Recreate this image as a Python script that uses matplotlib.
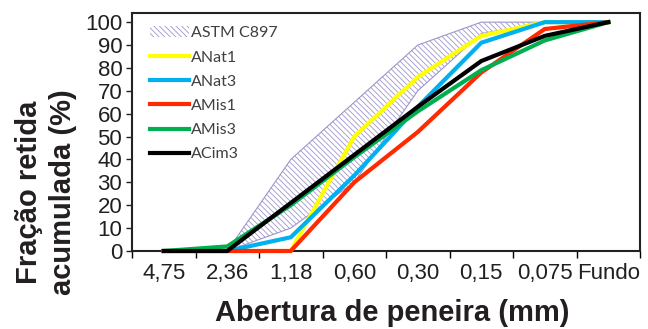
import numpy as np
import matplotlib.pyplot as plt
from matplotlib.patches import Patch
from matplotlib.lines import Line2D

plt.rcParams['font.family'] = ['Liberation Sans', 'DejaVu Sans']
plt.rcParams['hatch.linewidth'] = 0.6

# sieve openings (mm) as categories
sieves = ["4,75", "2,36", "1,18", "0,60", "0,30", "0,15", "0,075", "Fundo"]

# ASTM C897 band, defined from 2,36 to 0,075
band_sieves = ["2,36", "1,18", "0,60", "0,30", "0,15", "0,075"]
band_lower = [0, 10, 30, 70, 95, 100]
band_upper = [0, 40, 65, 90, 100, 100]

# cumulative retained fraction (%)
anat1 = [0, 0, 0, 50, 76, 94, 100, 100]
anat3 = [0, 0, 6, 33, 63, 91, 100, 100]
amis1 = [0, 0, 0, 30, 52, 78, 97, 100]
amis3 = [0, 2, 20, 41, 61, 79, 92, 100]
acim3 = [0, 0, 21, 42, 63, 83, 94, 100]

series = [
    ("ANat1", anat1, "#FFFF00"),
    ("ANat3", anat3, "#00B0F0"),
    ("AMis1", amis1, "#FF2A00"),
    ("AMis3", amis3, "#00B050"),
    ("ACim3", acim3, "#000000"),
]

band_color = "#9E95CC"
text_color = "#231F20"
hatch = "\\" * 6

fig = plt.figure(figsize=(6.48, 3.29), dpi=100)
ax = fig.add_axes([0.2037, 0.2371, 0.7840, 0.7234])

xpos = np.arange(len(sieves))
bx = [sieves.index(s) for s in band_sieves]

ax.fill_between(bx, band_lower, band_upper, facecolor="none",
                edgecolor=band_color, hatch=hatch, linewidth=0.8, zorder=1)

handles = [Patch(facecolor="none", edgecolor=band_color, hatch=hatch,
                 linewidth=0, label="ASTM C897")]
for name, vals, col in series:
    ax.plot(xpos, vals, color=col, linewidth=3.0, solid_joinstyle="miter",
            clip_on=False, zorder=3)
    handles.append(Line2D([], [], color=col, linewidth=3.0, label=name))

ax.set_xlim(-0.5, 7.5)
ax.set_ylim(0, 104)

ax.set_yticks(np.arange(0, 101, 10))
ax.tick_params(axis="y", labelsize=16, length=4, width=1, pad=3,
               colors=text_color)
ax.set_xticks(np.arange(-0.5, 8, 1))
ax.set_xticklabels([])
ax.tick_params(axis="x", which="major", length=5, width=1)
ax.set_xticks(xpos, minor=True)
ax.set_xticklabels(sieves, minor=True)
ax.tick_params(axis="x", which="minor", length=0, labelsize=16, pad=9,
               labelcolor=text_color)

for sp in ax.spines.values():
    sp.set_linewidth(1.5)
    sp.set_color("#222222")

leg = ax.legend(handles=handles, loc="upper left", bbox_to_anchor=(0.036, 0.945),
                frameon=False, borderpad=0, borderaxespad=0, handlelength=2.4,
                handletextpad=0.15, labelspacing=0.63,
                prop={"family": "Lato", "size": 11.5})
for t in leg.get_texts():
    t.set_color("#404040")

fig.text(0.071, 0.415, "Fração retida\nacumulada (%)", rotation=90,
         ha="center", va="center", fontsize=21, fontweight="bold",
         color=text_color, linespacing=1.25)
fig.text(0.605, 0.05, "Abertura de peneira (mm)", ha="center", va="center",
         fontsize=21, fontweight="bold", color=text_color)

fig.savefig("out.png", dpi=100)
